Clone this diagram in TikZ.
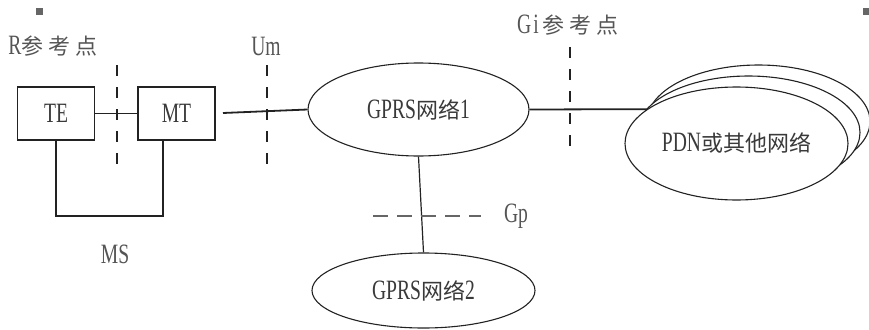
\documentclass[tikz,border=0pt]{standalone}
\usepackage{fontspec}
\setmainfont{Liberation Serif}
\newfontfamily\latfont[FakeStretch=0.7]{Liberation Serif}
\newfontfamily\cjkfont{Noto Sans CJK SC}
\usetikzlibrary{shapes.geometric}
\definecolor{linec}{HTML}{222222}
\definecolor{txtc}{HTML}{3A3A3A}
\definecolor{lblc}{HTML}{555555}
\definecolor{gpc}{HTML}{666666}
\newcommand\latn[1]{{\fontsize{28}{28}\selectfont\latfont #1}}
\newcommand\cjkt[1]{{\fontsize{22}{22}\selectfont\cjkfont #1}}
\begin{document}
\begin{tikzpicture}[x=1pt,y=-1pt,
  box/.style={draw=linec, line width=1.3pt, minimum width=77pt, minimum height=53pt, inner sep=0pt, text=txtc},
  net/.style={ellipse, draw=linec, line width=1.1pt, inner sep=0pt, text=txtc, fill=white},
  conn/.style={draw=linec, line width=1.8pt},
  refline/.style={draw=linec, line width=1.4pt, dash pattern=on 11pt off 11pt},
  gpline/.style={draw=gpc, line width=2.5pt, dash pattern=on 15pt off 9pt},
  lbl/.style={text=lblc, inner sep=0pt}]
\useasboundingbox (0,0) rectangle (869,329);
% corner marks
\fill[gpc] (36,8) rectangle (43,15);
\fill[gpc] (863,8) rectangle (869,15);
% labels
\node[lbl] (lR) at (53,46) {\latn{R}\cjkt{参\hspace{5pt}考\hspace{5pt}点}};
\node[lbl] (lUm) at (266,46) {\latn{Um}};
\node[lbl] (lGi) at (568,25) {\latn{G\hspace{2pt}i}\hspace{4pt}\cjkt{参\hspace{5pt}考\hspace{5pt}点}};
\node[lbl] (lGp) at (516,216) {\latn{Gp}};
\node[lbl] (lMS) at (115,254) {\latn{MS}};
% boxes
\node[box] (TE) at (56,113.5) {\latn{TE}};
\node[box] (MT) at (176.5,113.5) {\latn{MT}};
% PDN stack
\draw[draw=linec, line width=1.1pt, fill=white] (758.5,121.5) ellipse [x radius=111.5, y radius=56.5];
\draw[draw=linec, line width=1.1pt, fill=white] (748.5,132.5) ellipse [x radius=111.5, y radius=56.5];
\node[net, minimum width=223pt, minimum height=113pt] (pdn) at (736.5,143.5) {\latn{PDN}\cjkt{或其他网络}};
% GPRS networks
\node[net, minimum width=221pt, minimum height=93pt] (g1) at (418.5,109.5) {\latn{GPRS}\cjkt{网络}\latn{1}};
\node[net, minimum width=223pt, minimum height=75pt] (g2) at (423.5,290.5) {\latn{GPRS}\cjkt{网络}\latn{2}};
% connectors
\coordinate (mtout) at (223,113);
\coordinate (u) at (163,216);
\draw[conn] (TE.east) -- (MT.west);
\draw[conn] (mtout) -- (g1.west);
\draw[conn] (TE.south) |- (u) -- (u |- MT.south);
\draw[conn] (g1.east) -- (pdn.159.5);
\draw[draw=linec, line width=1.2pt] (g1.south) -- (g2.north);
% reference dashed lines
\coordinate (r1) at (117,65); \coordinate (r2) at (117,172);
\coordinate (u1) at (267,65); \coordinate (u2) at (267,172);
\coordinate (gi1) at (570,47); \coordinate (gi2) at (570,153);
\coordinate (gp1) at (373,216); \coordinate (gp2) at (481,216);
\draw[refline] (r1) -- (r2);
\draw[refline] (u1) -- (u2);
\draw[refline] (gi1) -- (gi2);
\draw[gpline] (gp1) -- (gp2);
\end{tikzpicture}
\end{document}
